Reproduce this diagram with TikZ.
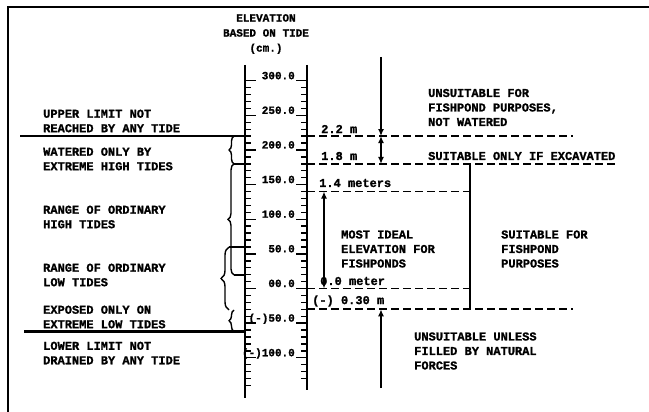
\documentclass[tikz,border=0pt]{standalone}
\usepackage{fontspec}
\newfontfamily\typewfont[BoldFeatures={FakeBold=1.2}]{Liberation Mono}
\usetikzlibrary{arrows.meta, decorations.pathreplacing, positioning}

\begin{document}
\begin{tikzpicture}[x=1pt, y=-1pt,%
  note/.style={inner sep=0pt, anchor=west, align=left, font=\typewfont\bfseries\fontsize{12}{14.5}\selectfont},%
  scaletext/.style={inner sep=0pt, anchor=base east, font=\typewfont\bfseries\fontsize{11}{13}\selectfont},%
  rulerline/.style={line width=2.2pt},%
  limitline/.style={line width=2.2pt},%
  tideline/.style={dash pattern=on 8pt off 4pt, line width=1.7pt},%
  dimarrow/.style={line width=1.4pt, >={Latex[length=7pt, width=6pt]}},%
  tidebrace/.style={decorate, decoration={brace, amplitude=#1}, line width=1.4pt}%
]
  \useasboundingbox (0,0) rectangle (649,412);
  \draw[line width=1.4pt] (8,412) -- (8,7) -- (649,7);

  \node[align=center, inner sep=0pt, font=\typewfont\bfseries\fontsize{11}{15}\selectfont] (head) at (266,34) {ELEVATION\\BASED ON TIDE\\(cm.)};

  % scale
  \draw[rulerline] (245,65) -- (245,398);
  \draw[rulerline] (307,65) -- (307,390);
  \foreach \c in {-140,-130,...,300}
    \draw[line width=1.4pt] (245,{288.5-0.6925*\c}) -- ++(6,0);
  \foreach \c in {-130,-120,...,300}
    \draw[line width=1.4pt] (307,{288.5-0.6925*\c}) -- ++(-6,0);
  \foreach \c/\t in {300/300.0, 250/250.0, 200/200.0, 150/150.0, 100/100.0, 50/50.0, 0/00.0, -50/{(-)50.0}, -100/{(-)100.0}} {
    \draw[line width=1.4pt] (245,{288.5-0.6925*\c}) -- ++(11,0);
    \draw[line width=1.4pt] (307,{288.5-0.6925*\c}) -- ++(-11,0);
    \node[scaletext] (sc\c) at (295,{287-0.6925*\c}) {\t};
  }

  % tide limits
  \draw[limitline] (20,136.1) -- (245,136.1);
  \draw[limitline] (24,331.5) -- (245,331.5);
  \node[note] (upper) at (43,121) {UPPER LIMIT NOT\\REACHED BY ANY TIDE};
  \node[note] (watered) at (43,159) {WATERED ONLY BY\\EXTREME HIGH TIDES};
  \node[note] (hightide) at (43,217) {RANGE OF ORDINARY\\HIGH TIDES};
  \node[note] (lowtide) at (43,275) {RANGE OF ORDINARY\\LOW TIDES};
  \node[note] (exposed) at (43,317) {EXPOSED ONLY ON\\EXTREME LOW TIDES};
  \node[note] (lower) at (43,353) {LOWER LIMIT NOT\\DRAINED BY ANY TIDE};

  \draw[tidebrace=5] (234,163.9) -- (234,136.1);
  \draw[tidebrace=6] (234,275) -- (234,163.9);
  \draw[tidebrace=8] (229,310) -- (229,247);
  \draw[tidebrace=5] (234,331.5) -- (234,310);
  \draw[line width=1.4pt] (234,163.9) -- (245,163.9);
  \draw[line width=1.4pt] (229,247) -- (245,247);
  \draw[line width=1.4pt] (234,275) -- (245,275);

  % elevations
  \draw[tideline] (307,136.1) -- (573,136.1);
  \draw[tideline] (307,163.9) -- (617,163.9);
  \draw[tideline] (307,191.5) -- (470,191.5);
  \draw[tideline] (307,288.5) -- (470,288.5);
  \draw[tideline] (307,309.3) -- (573,309.3);
  \draw[line width=1.6pt] (470,163.9) -- (470,309.3);

  \node[note] (m22) at (321,129) {2.2 m};
  \node[note] (m18) at (321,156) {1.8 m};
  \node[note] (m14) at (319,183) {1.4 meters};
  \node[note] (m00) at (320,281) {0.0 meter};
  \node[note] (m03) at (312,301) {(-) 0.30 m};

  \coordinate (topend) at (381,57);
  \coordinate (at22) at (381,136.1);
  \coordinate (at18) at (381,163.9);
  \coordinate (at14) at (324,191.5);
  \coordinate (at00) at (324,288.5);
  \coordinate (atm03) at (381,309.3);
  \coordinate (botend) at (381,388);
  \draw[dimarrow, ->] (topend) -- (at22);
  \draw[dimarrow, <->] (at22) -- (at18);
  \draw[dimarrow, <->] (at14) -- (at00);
  \draw[dimarrow, ->] (botend) -- (atm03);

  \node[note] (notwatered) at (428,107.5) {UNSUITABLE FOR\\FISHPOND PURPOSES,\\NOT WATERED};
  \node[note] (excavated) at (428,156) {SUITABLE ONLY IF EXCAVATED};
  \node[note] (ideal) at (341,249) {MOST IDEAL\\ELEVATION FOR\\FISHPONDS};
  \node[note] (suitable) at (501,249) {SUITABLE FOR\\FISHPOND\\PURPOSES};
  \node[note] (unless) at (414,351) {UNSUITABLE UNLESS\\FILLED BY NATURAL\\FORCES};
\end{tikzpicture}
\end{document}
